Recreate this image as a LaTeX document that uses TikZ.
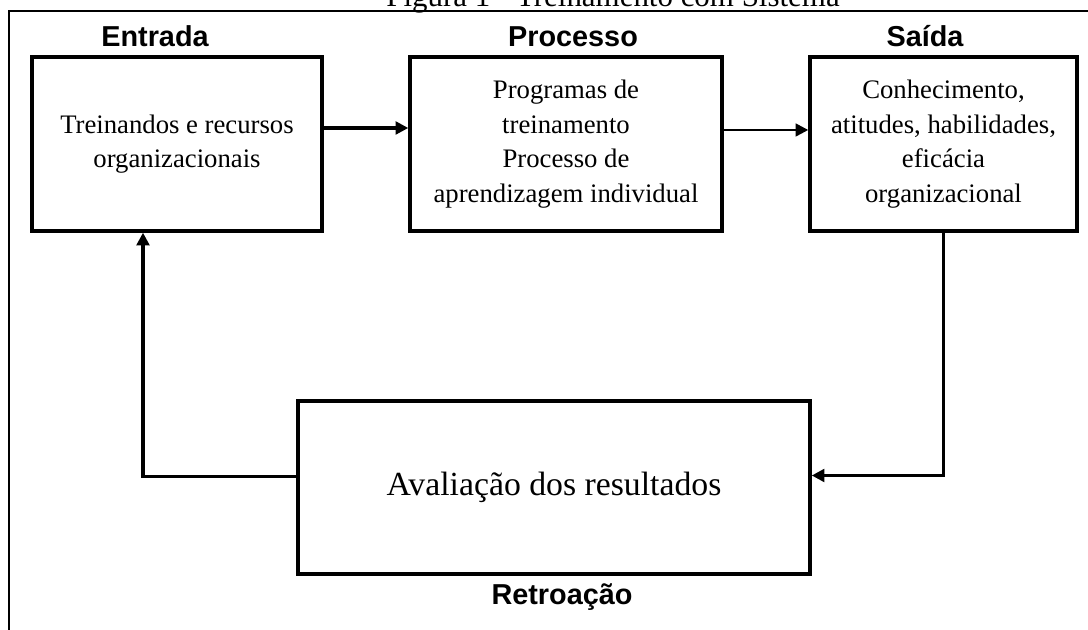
\documentclass[tikz,border=0pt]{standalone}
\usepackage{fontspec}
\setmainfont{Liberation Serif}
\setsansfont{Liberation Sans}
\usepackage{tikz}
\usetikzlibrary{arrows.meta, positioning, calc}

\tikzset{
  caixa/.style={draw=black, line width=2.4pt, align=center, inner sep=0pt,
    minimum height=4.35cm, font=\fontsize{19}{24.5}\selectfont},
  rotulo/.style={font=\sffamily\bfseries\fontsize{20.5}{24}\selectfont, anchor=base},
  seta/.style={line width=2.2pt, -{Triangle[length=9pt, width=9pt]}},
}

\begin{document}
\begin{tikzpicture}[x=0.025cm, y=0.025cm]
\useasboundingbox (0,0) rectangle (1088,630);
% moldura e titulo
\draw[line width=1pt] (9,0) -- (9,619) -- (1088,619);
\node[font=\fontsize{22}{26}\selectfont, anchor=base] (titulo) at (613,623) {Figura 1 - Treinamento com Sistema};
% caixas
\node[caixa, minimum width=7.25cm] (entrada) at (177,486) {Treinandos e recursos\\organizacionais};
\node[caixa, minimum width=7.8cm] (processo) at (566,486) {Programas de\\treinamento\\Processo de\\aprendizagem individual};
\node[caixa, minimum width=6.675cm] (saida) at (943.5,486) {Conhecimento,\\atitudes, habilidades,\\eficácia\\organizacional};
\node[caixa, minimum width=12.8cm, minimum height=4.325cm, font=\fontsize{24}{28}\selectfont] (avaliacao) at (554,142.5) {Avaliação dos resultados};
% rotulos
\node[rotulo] (lbentrada) at (155,583) {Entrada};
\node[rotulo] (lbprocesso) at (573,583) {Processo};
\node[rotulo] (lbsaida) at (925,583) {Saída};
\node[rotulo] (lbretro) at (562,25) {Retroação};
% ligacoes
\draw[seta] ([shift={(0,16)}]entrada.east) -- ([shift={(0,16)}]processo.west);
\draw[seta, line width=1.8pt] ([shift={(0,14)}]processo.east) -- ([shift={(0,14)}]saida.west);
\draw[seta] (saida.south) |- ([shift={(0,12)}]avaliacao.east);
\draw[seta] ([shift={(0,11)}]avaliacao.west) -| ([shift={(-34,0)}]entrada.south);
\end{tikzpicture}
\end{document}
